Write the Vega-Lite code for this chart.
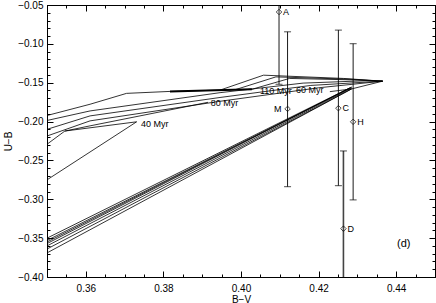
{
  "$schema": "https://vega.github.io/schema/vega-lite/v6.json",
  "width": 388,
  "height": 272,
  "autosize": {"type": "none"},
  "padding": {"left": 47, "top": 5, "right": 1, "bottom": 26},
  "background": "white",
  "config": {
    "view": {"stroke": "black", "strokeWidth": 1},
    "font": "Liberation Sans",
    "axis": {"grid": false, "domainColor": "black", "tickColor": "black", "labelColor": "black", "titleColor": "black", "labelFontSize": 10, "titleFontSize": 10, "titleFontWeight": "normal", "labelFont": "Liberation Sans", "titleFont": "Liberation Sans"}
  },
  "datasets": {
    "tracks": [
      {"id": "L1", "o": 0, "x": 0.35, "y": -0.1922},
      {"id": "L1", "o": 1, "x": 0.3611, "y": -0.1777},
      {"id": "L1", "o": 2, "x": 0.3705, "y": -0.1637},
      {"id": "L1", "o": 3, "x": 0.3817, "y": -0.1612},
      {"id": "L1", "o": 4, "x": 0.4028, "y": -0.1585},
      {"id": "TH", "o": 0, "x": 0.3817, "y": -0.1612},
      {"id": "TH", "o": 1, "x": 0.4028, "y": -0.1585},
      {"id": "L2", "o": 0, "x": 0.35, "y": -0.1986},
      {"id": "L2", "o": 1, "x": 0.3611, "y": -0.1863},
      {"id": "L2", "o": 2, "x": 0.3946, "y": -0.1628},
      {"id": "L2", "o": 3, "x": 0.416, "y": -0.1505},
      {"id": "L2", "o": 4, "x": 0.432, "y": -0.1475},
      {"id": "L2", "o": 5, "x": 0.4365, "y": -0.148},
      {"id": "L3", "o": 0, "x": 0.35, "y": -0.21},
      {"id": "L3", "o": 1, "x": 0.3611, "y": -0.1927},
      {"id": "L3", "o": 2, "x": 0.3946, "y": -0.169},
      {"id": "L3", "o": 3, "x": 0.418, "y": -0.1535},
      {"id": "L3", "o": 4, "x": 0.433, "y": -0.149},
      {"id": "L3", "o": 5, "x": 0.4365, "y": -0.148},
      {"id": "L3b", "o": 0, "x": 0.35, "y": -0.2186},
      {"id": "L3b", "o": 1, "x": 0.3611, "y": -0.1991},
      {"id": "L3b", "o": 2, "x": 0.3946, "y": -0.1739},
      {"id": "L3b", "o": 3, "x": 0.42, "y": -0.1565},
      {"id": "L3b", "o": 4, "x": 0.4365, "y": -0.148},
      {"id": "L4", "o": 0, "x": 0.3546, "y": -0.2122},
      {"id": "L4", "o": 1, "x": 0.3611, "y": -0.2055},
      {"id": "L4", "o": 2, "x": 0.3915, "y": -0.1752},
      {"id": "L5", "o": 0, "x": 0.35, "y": -0.2292},
      {"id": "L5", "o": 1, "x": 0.3546, "y": -0.2122},
      {"id": "L5", "o": 2, "x": 0.3731, "y": -0.2003},
      {"id": "L6", "o": 0, "x": 0.35, "y": -0.275},
      {"id": "L6", "o": 1, "x": 0.3731, "y": -0.2003},
      {"id": "F1", "o": 0, "x": 0.3946, "y": -0.1595},
      {"id": "F1", "o": 1, "x": 0.4058, "y": -0.1403},
      {"id": "F1", "o": 2, "x": 0.4264, "y": -0.1445},
      {"id": "F1", "o": 3, "x": 0.4365, "y": -0.148},
      {"id": "F2", "o": 0, "x": 0.3985, "y": -0.159},
      {"id": "F2", "o": 1, "x": 0.409, "y": -0.1425},
      {"id": "F2", "o": 2, "x": 0.428, "y": -0.1455},
      {"id": "F2", "o": 3, "x": 0.4365, "y": -0.148},
      {"id": "F3", "o": 0, "x": 0.4028, "y": -0.1585},
      {"id": "F3", "o": 1, "x": 0.4125, "y": -0.1445},
      {"id": "F3", "o": 2, "x": 0.43, "y": -0.1465},
      {"id": "F3", "o": 3, "x": 0.4365, "y": -0.148},
      {"id": "U8", "o": 0, "x": 0.4229, "y": -0.1615},
      {"id": "U8", "o": 1, "x": 0.4285, "y": -0.158},
      {"id": "U8", "o": 2, "x": 0.4365, "y": -0.148},
      {"id": "B1", "o": 0, "x": 0.35, "y": -0.35},
      {"id": "B1", "o": 1, "x": 0.4285, "y": -0.1555},
      {"id": "B2", "o": 0, "x": 0.35, "y": -0.353},
      {"id": "B2", "o": 1, "x": 0.4285, "y": -0.156},
      {"id": "B3", "o": 0, "x": 0.35, "y": -0.355},
      {"id": "B3", "o": 1, "x": 0.428, "y": -0.157},
      {"id": "B4", "o": 0, "x": 0.35, "y": -0.357},
      {"id": "B4", "o": 1, "x": 0.428, "y": -0.157},
      {"id": "B5", "o": 0, "x": 0.35, "y": -0.36},
      {"id": "B5", "o": 1, "x": 0.4285, "y": -0.157},
      {"id": "B6", "o": 0, "x": 0.35, "y": -0.364},
      {"id": "B6", "o": 1, "x": 0.4285, "y": -0.158},
      {"id": "B7", "o": 0, "x": 0.35, "y": -0.369},
      {"id": "B7", "o": 1, "x": 0.4285, "y": -0.158}
    ],
    "obs": [
      {"name": "A", "x": 0.4098, "y": -0.059, "lo": -0.152, "hi": 0.034},
      {"name": "M", "x": 0.412, "y": -0.1837, "lo": -0.2838, "hi": -0.0845},
      {"name": "C", "x": 0.4251, "y": -0.1828, "lo": -0.2825, "hi": -0.0823},
      {"name": "H", "x": 0.4289, "y": -0.2003, "lo": -0.3008, "hi": -0.0998},
      {"name": "D", "x": 0.4264, "y": -0.3378, "lo": -0.4378, "hi": -0.2378}
    ],
    "labels": [
      {"text": "40 Myr", "x": 0.3742, "y": -0.2035, "big": false},
      {"text": "80 Myr", "x": 0.3922, "y": -0.1755, "big": false},
      {"text": "110 Myr", "x": 0.4049, "y": -0.1605, "big": false},
      {"text": "60 Myr", "x": 0.4142, "y": -0.1595, "big": false},
      {"text": "(d)", "x": 0.4402, "y": -0.358, "big": true}
    ]
  },
  "resolve": {"axis": {"x": "independent", "y": "independent"}},
  "layer": [
    {
      "data": {"name": "tracks"},
      "mark": {"type": "line", "clip": true, "color": "black"},
      "encoding": {
        "x": {"field": "x", "type": "quantitative", "scale": {"domain": [0.35, 0.45], "nice": false, "zero": false},
          "axis": {"orient": "bottom", "title": "B−V", "titlePadding": 1, "values": [0.35,0.355,0.36,0.365,0.37,0.375,0.38,0.385,0.39,0.395,0.4,0.405,0.41,0.415,0.42,0.425,0.43,0.435,0.44,0.445,0.45],
            "labelExpr": "abs(datum.value*50 - round(datum.value*50)) < 0.01 ? format(datum.value, '.2f') : ''",
            "tickSize": {"condition": {"test": "abs(datum.value*50 - round(datum.value*50)) < 0.01", "value": -6}, "value": -3},
            "labelPadding": 12}},
        "y": {"field": "y", "type": "quantitative", "scale": {"domain": [-0.4, -0.05], "nice": false, "zero": false},
          "axis": {"orient": "left", "title": "U−B", "titlePadding": 4, "values": [-0.4,-0.39,-0.38,-0.37,-0.36,-0.35,-0.34,-0.33,-0.32,-0.31,-0.3,-0.29,-0.28,-0.27,-0.26,-0.25,-0.24,-0.23,-0.22,-0.21,-0.2,-0.19,-0.18,-0.17,-0.16,-0.15,-0.14,-0.13,-0.12,-0.11,-0.1,-0.09,-0.08,-0.07,-0.06,-0.05],
            "labelExpr": "abs(datum.value*20 - round(datum.value*20)) < 0.01 ? format(datum.value, '.2f') : ''",
            "tickSize": {"condition": {"test": "abs(datum.value*20 - round(datum.value*20)) < 0.01", "value": -6}, "value": -3},
            "labelPadding": 10}},
        "detail": {"field": "id"},
        "order": {"field": "o", "type": "quantitative"},
        "strokeWidth": {"condition": {"test": "datum.id === 'TH'", "value": 2}, "value": 0.8}
      }
    },
    {
      "data": {"name": "obs"},
      "mark": {"type": "rule", "clip": true, "color": "black"},
      "encoding": {
        "x": {"field": "x", "type": "quantitative",
          "axis": {"orient": "top", "title": null, "labels": false, "values": [0.35,0.355,0.36,0.365,0.37,0.375,0.38,0.385,0.39,0.395,0.4,0.405,0.41,0.415,0.42,0.425,0.43,0.435,0.44,0.445,0.45],
            "tickSize": {"condition": {"test": "abs(datum.value*50 - round(datum.value*50)) < 0.01", "value": -6}, "value": -3}}},
        "y": {"field": "lo", "type": "quantitative",
          "axis": {"orient": "right", "title": null, "labels": false, "values": [-0.4,-0.39,-0.38,-0.37,-0.36,-0.35,-0.34,-0.33,-0.32,-0.31,-0.3,-0.29,-0.28,-0.27,-0.26,-0.25,-0.24,-0.23,-0.22,-0.21,-0.2,-0.19,-0.18,-0.17,-0.16,-0.15,-0.14,-0.13,-0.12,-0.11,-0.1,-0.09,-0.08,-0.07,-0.06,-0.05],
            "tickSize": {"condition": {"test": "abs(datum.value*20 - round(datum.value*20)) < 0.01", "value": -6}, "value": -3}}},
        "y2": {"field": "hi"},
        "strokeWidth": {"condition": {"test": "datum.name === 'D'", "value": 1.6}, "value": 0.9},
        "color": {"condition": {"test": "datum.name === 'D'", "value": "#444"}, "value": "black"}
      }
    },
    {
      "data": {"name": "obs"},
      "mark": {"type": "tick", "orient": "horizontal", "clip": true, "color": "black", "size": 7, "thickness": 1},
      "encoding": {
        "x": {"field": "x", "type": "quantitative", "axis": null},
        "y": {"field": "lo", "type": "quantitative", "axis": null}
      }
    },
    {
      "data": {"name": "obs"},
      "mark": {"type": "tick", "orient": "horizontal", "clip": true, "color": "black", "size": 7, "thickness": 1},
      "encoding": {
        "x": {"field": "x", "type": "quantitative", "axis": null},
        "y": {"field": "hi", "type": "quantitative", "axis": null}
      }
    },
    {
      "data": {"name": "obs"},
      "mark": {"type": "point", "shape": "diamond", "filled": false, "size": 30, "stroke": "black", "strokeWidth": 1, "clip": true},
      "encoding": {
        "x": {"field": "x", "type": "quantitative", "axis": null},
        "y": {"field": "y", "type": "quantitative", "axis": null}
      }
    },
    {
      "data": {"name": "obs"},
      "transform": [{"filter": "datum.name !== 'M'"}],
      "mark": {"type": "text", "align": "left", "baseline": "middle", "dx": 4, "fontSize": 9, "font": "Liberation Sans", "color": "black"},
      "encoding": {
        "x": {"field": "x", "type": "quantitative", "axis": null},
        "y": {"field": "y", "type": "quantitative", "axis": null},
        "text": {"field": "name"}
      }
    },
    {
      "data": {"name": "obs"},
      "transform": [{"filter": "datum.name === 'M'"}],
      "mark": {"type": "text", "align": "right", "baseline": "middle", "dx": -6, "fontSize": 9, "font": "Liberation Sans", "color": "black"},
      "encoding": {
        "x": {"field": "x", "type": "quantitative", "axis": null},
        "y": {"field": "y", "type": "quantitative", "axis": null},
        "text": {"field": "name"}
      }
    },
    {
      "data": {"name": "labels"},
      "mark": {"type": "text", "align": "left", "baseline": "middle", "font": "Liberation Sans", "color": "black"},
      "encoding": {
        "x": {"field": "x", "type": "quantitative", "axis": null},
        "y": {"field": "y", "type": "quantitative", "axis": null},
        "text": {"field": "text"},
        "size": {"condition": {"test": "datum.big", "value": 11}, "value": 9}
      }
    }
  ]
}
